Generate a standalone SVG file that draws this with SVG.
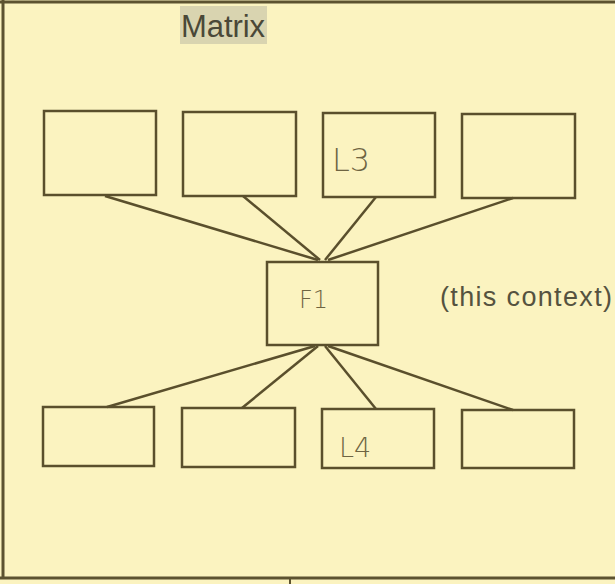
<svg xmlns="http://www.w3.org/2000/svg" width="615" height="584" viewBox="0 0 615 584">
<style>
.box{fill:none;stroke:#5a4f2c;stroke-width:2.5}
.con{stroke:#5a4f2c;stroke-width:2.5;fill:none}
.hand{font-family:"DejaVu Sans",sans-serif;fill:#6e6442;font-weight:300}
</style>
<rect x="0" y="0" width="615" height="584" fill="#fbf3c0"/>
<g id="frame" stroke="#5c5230" fill="none">
<line x1="0" y1="2" x2="615" y2="2" stroke-width="3"/>
<line x1="3" y1="0" x2="3" y2="578" stroke-width="3"/>
<line x1="0" y1="578" x2="615" y2="578" stroke-width="3"/>
<line x1="290" y1="578" x2="290" y2="584" stroke-width="2"/>
</g>
<g id="title">
<rect x="180" y="6" width="87" height="38" fill="#d9d4b0"/>
<text x="181" y="37" font-family="'Liberation Sans',Arial,sans-serif" font-size="31" fill="#4a4838" textLength="84">Matrix</text>
</g>
<g id="connectors">
<line class="con" x1="105" y1="196" x2="318" y2="260"/>
<line class="con" x1="243" y1="196" x2="320" y2="260"/>
<line class="con" x1="376" y1="197" x2="325" y2="260"/>
<line class="con" x1="513" y1="198" x2="328" y2="260"/>
<line class="con" x1="107" y1="407" x2="315" y2="346"/>
<line class="con" x1="242" y1="408" x2="318" y2="346"/>
<line class="con" x1="376" y1="409" x2="325" y2="346"/>
<line class="con" x1="513" y1="410" x2="328" y2="346"/>
</g>
<g id="top1"><rect class="box" x="44" y="111" width="112" height="84"/></g>
<g id="top2"><rect class="box" x="183" y="112" width="113" height="84"/></g>
<g id="top3"><rect class="box" x="323" y="113" width="112" height="84"/>
<text class="hand" x="332" y="171" font-size="32">L3</text></g>
<g id="top4"><rect class="box" x="462" y="114" width="113" height="84"/></g>
<g id="f1"><rect class="box" x="267" y="262" width="111" height="83"/>
<text class="hand" x="299" y="308" font-size="24">F1</text></g>
<g id="context"><text x="440" y="306" font-family="'Liberation Sans',Arial,sans-serif" font-size="27" fill="#55523f" textLength="172">(this context)</text></g>
<g id="bot1"><rect class="box" x="43" y="407" width="111" height="59"/></g>
<g id="bot2"><rect class="box" x="182" y="408" width="113" height="59"/></g>
<g id="bot3"><rect class="box" x="322" y="409" width="112" height="59"/>
<text class="hand" x="339" y="457" font-size="27">L4</text></g>
<g id="bot4"><rect class="box" x="462" y="410" width="112" height="58"/></g>
</svg>
